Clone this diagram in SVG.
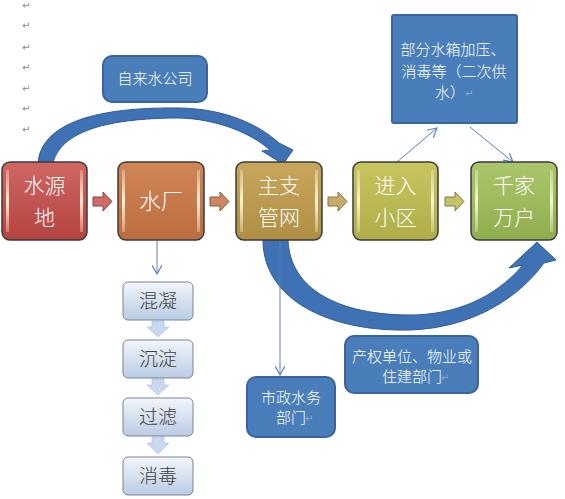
<svg xmlns="http://www.w3.org/2000/svg" width="565" height="499" viewBox="0 0 565 499">
<defs>
<linearGradient id="gRed" x1="0" y1="0" x2="0" y2="1"><stop offset="0" stop-color="#d06763"/><stop offset="1" stop-color="#b4433f"/></linearGradient>
<linearGradient id="gOrange" x1="0" y1="0" x2="0" y2="1"><stop offset="0" stop-color="#d08656"/><stop offset="1" stop-color="#bb6d40"/></linearGradient>
<linearGradient id="gGold" x1="0" y1="0" x2="0" y2="1"><stop offset="0" stop-color="#c8a75c"/><stop offset="1" stop-color="#b08f45"/></linearGradient>
<linearGradient id="gOlive" x1="0" y1="0" x2="0" y2="1"><stop offset="0" stop-color="#c6c560"/><stop offset="1" stop-color="#aead47"/></linearGradient>
<linearGradient id="gGreen" x1="0" y1="0" x2="0" y2="1"><stop offset="0" stop-color="#abc66a"/><stop offset="1" stop-color="#8fae4e"/></linearGradient>
<linearGradient id="gStep" x1="0" y1="0" x2="0" y2="1"><stop offset="0" stop-color="#f3f6fb"/><stop offset="1" stop-color="#b9cbe4"/></linearGradient>
<linearGradient id="gBar" x1="0" y1="0" x2="0" y2="1"><stop offset="0" stop-color="#fff6dc" stop-opacity="0.3"/><stop offset="0.5" stop-color="#fff6dc" stop-opacity="0.95"/><stop offset="1" stop-color="#fff6dc" stop-opacity="0.3"/></linearGradient>
<marker id="open" viewBox="0 0 10 10" refX="9" refY="5" markerWidth="10" markerHeight="10" markerUnits="userSpaceOnUse" orient="auto">
<path d="M0,0 L9,5 L0,10" fill="none" stroke="#5b80b8" stroke-width="1.2"/>
</marker>
<path id="chev" d="M0,6 L10,6 L10,1 L19,10.5 L10,20 L10,15 L0,15 Z"/>
</defs>
<style>
.node rect.body{stroke:#3b3b3b;stroke-width:1.5}
.bar{fill:url(#gBar)}
.nt{font-family:"Noto Sans CJK SC","Noto Sans",sans-serif;font-weight:300;font-size:22px;fill:#ffffff;text-anchor:middle}
.nt2{font-family:"Noto Sans CJK SC","Noto Sans",sans-serif;font-weight:300;font-size:21px;fill:#ffffff;text-anchor:middle}
.blue rect{fill:#4a7ebb;stroke:#3a649a;stroke-width:2}
.bt{font-family:"Noto Sans CJK SC","Noto Sans",sans-serif;font-weight:300;font-size:15px;fill:#ffffff;text-anchor:middle}
.step rect{fill:url(#gStep);stroke:#7a8594;stroke-width:1}
.st{font-family:"Noto Sans CJK SC","Noto Sans",sans-serif;font-weight:300;font-size:19px;fill:#404040;text-anchor:middle}
.thin{fill:none;stroke:#5b80b8;stroke-width:1;marker-end:url(#open)}
.big{fill:#3f72b5;stroke:#2f5b94;stroke-width:1}
.mark{font-family:"DejaVu Sans",sans-serif;font-size:10px;fill:#8a8a8a}
.faint{font-family:"DejaVu Sans",sans-serif;font-size:10px;fill:#8fa9cf}
.sdown{fill:#c9d8ee;stroke:#b3c6e2;stroke-width:0.8}
.chevron{stroke-width:1;opacity:0.9}
</style>

<g id="margin-marks">
<text class="mark" x="22" y="9">↵</text>
<text class="mark" x="22" y="29">↵</text>
<text class="mark" x="22" y="51">↵</text>
<text class="mark" x="22" y="71">↵</text>
<text class="mark" x="22" y="92">↵</text>
<text class="mark" x="22" y="112">↵</text>
<text class="mark" x="22" y="133">↵</text>
</g>

<g id="connectors">
<path class="big" d="M38,163 C42,118 110,107 180,108 C225,109 258,124 279,143 L293,150 L283,164 L262,151 L270,150 C250,132 215,119 180,118 C120,118 62,127 53,163 Z"/>
<path class="big" d="M263,240 C263,300 330,332 410,330 C470,328 517,300 544,263 L556,260 L537,242 L509,268 L523,265 C495,298 455,315 410,315 C340,315 290,290 288,240 Z"/>
<path class="thin" d="M157,241 L157,274"/>
<path class="thin" d="M280,241 L280,375"/>
<path class="thin" d="M397,162 L437,128"/>
<path class="thin" d="M470,127 L513,162"/>
<use class="chevron" href="#chev" x="93" y="191" fill="#c85b57" stroke="#7a3330"/>
<use class="chevron" href="#chev" x="210" y="191" fill="#c87a4d" stroke="#7a4a2c"/>
<use class="chevron" href="#chev" x="328" y="191" fill="#c0a458" stroke="#76632e"/>
<use class="chevron" href="#chev" x="445" y="191" fill="#bdbd58" stroke="#6f6f2c"/>
<path class="sdown" d="M152,321 L164,321 L164,327 L169,327 L158,337 L147,327 L152,327 Z"/>
<path class="sdown" d="M152,379 L164,379 L164,385 L169,385 L158,395 L147,385 L152,385 Z"/>
<path class="sdown" d="M152,437 L164,437 L164,443 L169,443 L158,454 L147,443 L152,443 Z"/>
</g>

<g id="n-shuiyuandi" class="node">
<rect class="body" x="2" y="162" width="85" height="78" rx="8" fill="url(#gRed)"/>
<rect class="bar" x="6" y="170" width="3" height="62"/><rect class="bar" x="80" y="170" width="3" height="62"/>
<text class="nt2" x="44.5" y="193">水源</text><text class="nt2" x="44.5" y="225">地</text>
</g>
<g id="n-shuichang" class="node">
<rect class="body" x="118" y="162" width="86" height="78" rx="8" fill="url(#gOrange)"/>
<rect class="bar" x="122" y="170" width="3" height="62"/><rect class="bar" x="197" y="170" width="3" height="62"/>
<text class="nt" x="161" y="209">水厂</text>
</g>
<g id="n-zhuzhiguanwang" class="node">
<rect class="body" x="236" y="162" width="86" height="78" rx="8" fill="url(#gGold)"/>
<rect class="bar" x="240" y="170" width="3" height="62"/><rect class="bar" x="315" y="170" width="3" height="62"/>
<text class="nt2" x="279" y="193">主支</text><text class="nt2" x="279" y="225">管网</text>
</g>
<g id="n-jinruxiaoqu" class="node">
<rect class="body" x="353" y="162" width="85" height="78" rx="8" fill="url(#gOlive)"/>
<rect class="bar" x="357" y="170" width="3" height="62"/><rect class="bar" x="431" y="170" width="3" height="62"/>
<text class="nt2" x="395.5" y="193">进入</text><text class="nt2" x="395.5" y="225">小区</text>
</g>
<g id="n-qianjiawanhu" class="node">
<rect class="body" x="471" y="162" width="86" height="78" rx="8" fill="url(#gGreen)"/>
<rect class="bar" x="475" y="170" width="3" height="62"/><rect class="bar" x="550" y="170" width="3" height="62"/>
<text class="nt2" x="514" y="193">千家</text><text class="nt2" x="514" y="225">万户</text>
</g>

<g id="n-zilaishui" class="blue">
<rect x="103" y="56" width="104" height="46" rx="9"/>
<text class="bt" x="155" y="84">自来水公司</text>
</g>
<g id="n-erci" class="blue">
<rect x="392" y="15" width="125" height="108" rx="2"/>
<text class="bt" x="453" y="55">部分水箱加压、</text>
<text class="bt" x="454" y="77">消毒等（二次供</text>
<text class="bt" x="450" y="98">水）</text><text class="faint" x="465" y="97">↵</text>
</g>
<g id="n-shizheng" class="blue">
<rect x="247" y="377" width="88" height="60" rx="9"/>
<text class="bt" x="291" y="403">市政水务</text>
<text class="bt" x="291" y="423">部门</text><text class="faint" x="305" y="422">↵</text>
</g>
<g id="n-chanquan" class="blue">
<rect x="345" y="336" width="133" height="57" rx="9"/>
<text class="bt" x="412" y="362">产权单位、物业或</text>
<text class="bt" x="412" y="382">住建部门</text><text class="faint" x="441" y="381">↵</text>
</g>

<g id="s-hunning" class="step"><rect x="123" y="282" width="70" height="38" rx="5"/><text class="st" x="158" y="308">混凝</text></g>
<g id="s-chendian" class="step"><rect x="123" y="340" width="70" height="38" rx="5"/><text class="st" x="158" y="366">沉淀</text></g>
<g id="s-guolv" class="step"><rect x="123" y="398" width="70" height="38" rx="5"/><text class="st" x="158" y="424">过滤</text></g>
<g id="s-xiaodu" class="step"><rect x="123" y="457" width="70" height="38" rx="5"/><text class="st" x="158" y="483">消毒</text></g>
</svg>
